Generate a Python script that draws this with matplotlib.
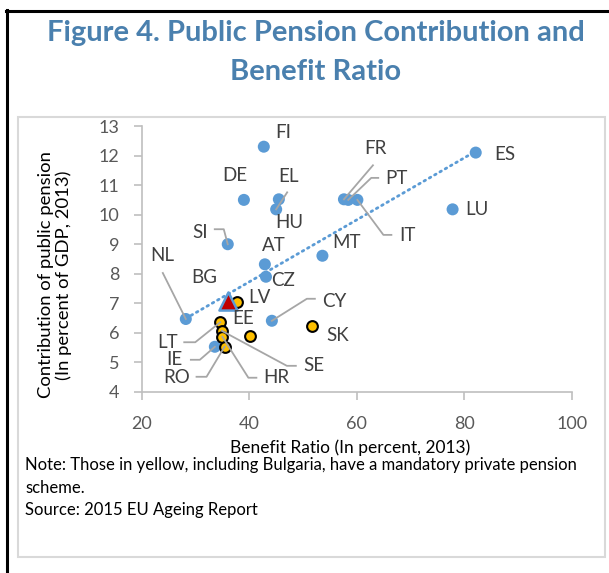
import numpy as np
import matplotlib
matplotlib.use("Agg")
import matplotlib.pyplot as plt
from matplotlib.lines import Line2D
from matplotlib.patches import Rectangle

plt.rcParams['font.family'] = ['Lato', 'DejaVu Sans']

# --- data ---
blue_names = ['FI', 'DE', 'HU', 'EL', 'FR', 'PT', 'IT', 'ES', 'LU', 'SI', 'AT',
              'MT', 'CZ', 'NL', 'CY', 'IE']
blue_x = [42.7, 39.0, 45.5, 45.0, 57.6, 58.4, 60.1, 82.1, 77.8, 36.0, 42.9,
          53.6, 43.1, 28.2, 44.2, 33.6]
blue_y = [12.3, 10.5, 10.52, 10.18, 10.52, 10.5, 10.5, 12.1, 10.18, 9.0, 8.32,
          8.61, 7.9, 6.47, 6.41, 5.53]

yellow_names = ['LV', 'LT', 'SE', 'HR', 'RO', 'EE', 'SK']
yellow_x = [37.8, 34.6, 34.9, 35.0, 35.4, 40.1, 51.7]
yellow_y = [7.06, 6.36, 6.07, 5.87, 5.53, 5.91, 6.23]

bg_x = [36.0]
bg_y = [7.08]

# label offsets in pixels (dx right, dy down) and leader line vertices
label_off = {
    'FI': (19, -14), 'DE': (-9, -24), 'HU': (10, 23), 'EL': (12, -33),
    'FR': (31, -51), 'PT': (48, -21), 'IT': (50, 36), 'ES': (29, 2),
    'LU': (24, 0), 'SI': (-28, -12), 'AT': (9, -19), 'MT': (24, -13),
    'CZ': (17, 4), 'NL': (-24, -63), 'CY': (62, -19), 'IE': (-40, 13),
    'LV': (22, -4), 'LT': (-53, 20), 'SE': (92, 35), 'HR': (54, 41),
    'RO': (-48, 31), 'EE': (-7, -17), 'SK': (25, 9), 'BG': (-24, -23),
}
leaders = {
    'EL': [(11, -17), (0, 0)],
    'SI': [(-13, -15), (-4, -15), (0, 0)],
    'NL': [(-23, -46), (0, 0)],
    'CY': [(43, -22), (35, -22), (0, 0)],
    'LT': [(-36, 20), (-25, 20), (0, 0)],
    'IE': [(-24, 13), (-15, 13), (0, 0)],
    'RO': [(-28, 30), (-18, 30), (0, 0)],
    'SE': [(74, 35), (65, 35), (0, 0)],
    'HR': [(34, 41), (26, 41), (0, 0)],
    'FR': [(29, -34), (0, 0)],
    'PT': [(30, -22), (23, -22), (0, 0)],
    'IT': [(34, 35), (26, 35), (0, 0)],
}

W, H = 609, 573
fig = plt.figure(figsize=(W / 100, H / 100), dpi=100)

# outer frame bits and inner grey box
fig.add_artist(Line2D([7 / W, 7 / W], [0, 1 - 10 / H], color='black', lw=2.2))
fig.add_artist(Line2D([6 / W, 1], [1 - 11 / H, 1 - 11 / H], color='black', lw=2.2))
fig.add_artist(Rectangle((18 / W, 1 - 557 / H), (605 - 18) / W, (557 - 117) / H,
                         fill=False, edgecolor='#D9D9D9', lw=1.5))

fig.text(316 / W, 1 - 33 / H, 'Figure 4. Public Pension Contribution and',
         ha='center', va='center', fontsize=21, fontweight='bold', color='#4A80AE')
fig.text(316 / W, 1 - 72 / H, 'Benefit Ratio', ha='center', va='center',
         fontsize=21, fontweight='bold', color='#4A80AE')

ax = fig.add_axes([141.7 / W, 1 - 392 / H, (572 - 141.7) / W, (392 - 126) / H])
ax.set_xlim(20, 100)
ax.set_ylim(4, 13)
ax.set_xticks([20, 40, 60, 80, 100])
ax.set_yticks(range(4, 14))
for s in ['top', 'right']:
    ax.spines[s].set_visible(False)
for s in ['left', 'bottom']:
    ax.spines[s].set_color('#BFBFBF')
    ax.spines[s].set_linewidth(1.2)
ax.tick_params(colors='#BFBFBF', labelcolor='#595959', labelsize=13,
               length=6, width=1.2, direction='out')
ax.tick_params(axis='x', pad=11)
ax.tick_params(axis='y', pad=10)
ax.set_facecolor('none')

ax.set_xlabel('Benefit Ratio (In percent, 2013)', fontsize=12.5, color='#000000')
ax.xaxis.set_label_coords(0.485, -0.18)
ax.set_ylabel('Contribution of public pension\n(In percent of GDP, 2013)',
              fontsize=13.3, color='#000000', linespacing=1.1)
ax.yaxis.set_label_coords(-0.163, 0.44)

# trend line through all points
all_x = np.array(blue_x + yellow_x + bg_x)
all_y = np.array(blue_y + yellow_y + bg_y)
k, b = np.polyfit(all_x, all_y, 1)
xs = np.array([all_x.min(), all_x.max()])
ax.plot(xs, k * xs + b, color='#5B9BD5', lw=2, ls=(0, (0.6, 1.6)),
        dash_capstyle='round', zorder=2)

ax.scatter(blue_x, blue_y, s=75, color='#5B9BD5', edgecolors='none', zorder=4)
ax.scatter(yellow_x, yellow_y, s=60, color='#FFC000', edgecolors='black',
           linewidths=1.5, zorder=5)
ax.scatter(bg_x, bg_y, s=170, marker='^', color='#C00000', edgecolors='#5B9BD5',
           linewidths=1.8, zorder=6)

names = blue_names + yellow_names + ['BG']
xs_all = blue_x + yellow_x + bg_x
ys_all = blue_y + yellow_y + bg_y
inv = fig.transFigure.inverted()
for n, x, y in zip(names, xs_all, ys_all):
    dx, dy = label_off[n]
    ax.annotate(n, (x, y), xytext=(dx, -dy), textcoords='offset pixels',
                ha='center', va='center', fontsize=13.5, color='#404040', zorder=7)
    if n in leaders:
        px, py = ax.transData.transform((x, y))
        pts = [inv.transform((px + vx, py - vy)) for vx, vy in leaders[n]]
        fig.add_artist(Line2D([p[0] for p in pts], [p[1] for p in pts],
                              color='#A6A6A6', lw=1.3, zorder=1))

note_font = 12.0
fig.text(25 / W, 1 - 465 / H,
         'Note: Those in yellow, including Bulgaria, have a mandatory private pension',
         ha='left', va='center', fontsize=note_font)
fig.text(25 / W, 1 - 488 / H, 'scheme.', ha='left', va='center', fontsize=note_font)
fig.text(25 / W, 1 - 510 / H, 'Source: 2015 EU Ageing Report', ha='left',
         va='center', fontsize=note_font)

fig.savefig('out.png', dpi=100)
